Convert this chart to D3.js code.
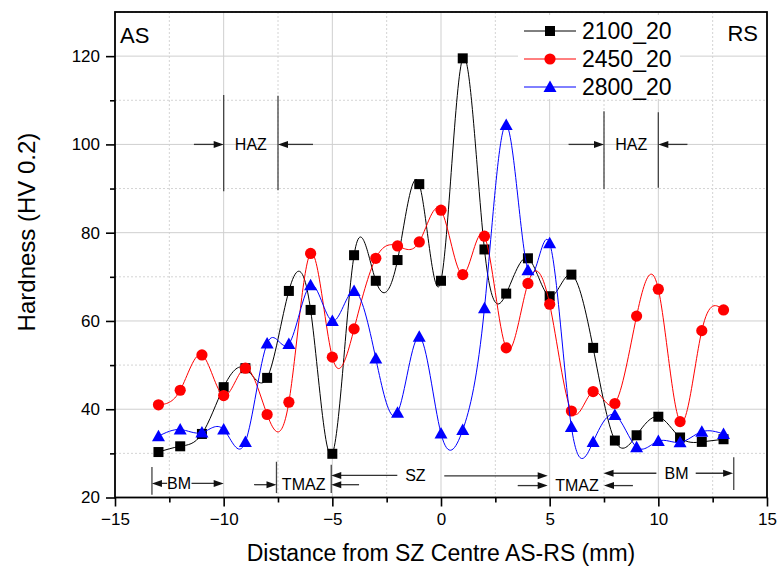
<!DOCTYPE html>
<html>
<head>
<meta charset="utf-8">
<script src="https://cdn.jsdelivr.net/npm/d3@7"></script>
<style>
  body { margin: 0; background: #fff; }
  svg { display: block; font-family: Arial, "Liberation Sans", sans-serif; }
</style>
</head>
<body>
<svg id="chart" width="778" height="570"></svg>
<script>
// distance from SZ centre, mm
var distance = [-13, -12, -11, -10, -9, -8, -7, -6, -5, -4, -3, -2, -1, 0, 1, 2, 3, 4, 5, 6, 7, 8, 9, 10, 11, 12, 13];

var hv2100 = [30.3, 31.6, 34.4, 45.0, 49.3, 47.1, 66.8, 62.5, 29.9, 74.9, 69.1, 73.8, 91.0, 69.1, 119.5, 76.2, 66.2, 74.2, 65.6, 70.5, 53.9, 32.9, 34.1, 38.3, 33.6, 32.6, 33.2];
var hv2450 = [41.0, 44.3, 52.3, 43.1, 49.3, 38.8, 41.6, 75.3, 51.8, 58.2, 74.2, 77.0, 77.9, 85.1, 70.5, 79.2, 53.9, 68.5, 63.8, 39.6, 44.0, 41.3, 61.1, 67.2, 37.2, 57.8, 62.5];
var hv2800 = [33.9, 35.4, 34.7, 35.4, 32.6, 54.9, 54.8, 68.1, 60.0, 66.8, 51.5, 39.2, 56.4, 34.5, 35.3, 62.9, 104.4, 71.5, 77.6, 36.0, 32.6, 38.7, 31.4, 32.8, 32.5, 34.9, 34.4];

var seriesNames = ['2100_20', '2450_20', '2800_20'];
var seriesColors = ['#000000', '#ff0000', '#0000ff'];
var seriesShapes = ['square', 'circle', 'triangle'];

var xTicks = [-15, -10, -5, 0, 5, 10, 15];
var yTicks = [20, 40, 60, 80, 100, 120];

// zone annotations, in data units
var zoneLines = [
  {x: -10, y1: 89.4, y2: 111.2}, {x: -7.5, y1: 89.6, y2: 111.0},
  {x: 7.5, y1: 89.9, y2: 107.5}, {x: 10, y1: 90.2, y2: 107.3},
  {x: -13.3, y1: 20.6, y2: 26.9}, {x: -7.57, y1: 21.0, y2: 28.1},
  {x: -5.05, y1: 21.0, y2: 27.4}, {x: 13.47, y1: 21.7, y2: 29.1}
];
var zoneArrows = [
  {from: -11.37, to: -10, y: 100}, {from: -5.89, to: -7.5, y: 100},
  {from: 5.87, to: 7.5, y: 100}, {from: 11.34, to: 10, y: 100},
  {from: -12.6, to: -13.3, y: 23.2}, {from: -11.48, to: -10, y: 23.2},
  {from: -8.6, to: -7.57, y: 22.9}, {from: -3.77, to: -5.05, y: 22.9},
  {from: -2.01, to: -5.05, y: 25.0}, {from: 0.15, to: 4.91, y: 24.9},
  {from: 3.53, to: 4.91, y: 22.7}, {from: 8.83, to: 7.5, y: 22.7},
  {from: 9.91, to: 7.48, y: 25.5}, {from: 11.72, to: 13.44, y: 25.5}
];
var zoneLabels = [
  {text: 'HAZ', x: -8.75, y: 100}, {text: 'HAZ', x: 8.75, y: 100},
  {text: 'BM', x: -12.05, y: 23.2}, {text: 'TMAZ', x: -6.32, y: 22.9},
  {text: 'SZ', x: -1.18, y: 25.0}, {text: 'TMAZ', x: 6.26, y: 22.7},
  {text: 'BM', x: 10.84, y: 25.5}
];

var margin = {top: 12, right: 11, bottom: 72.5, left: 115};
var width = 778 - margin.left - margin.right;
var height = 570 - margin.top - margin.bottom;

var svg = d3.select('#chart');
var g = svg.append('g')
    .attr('transform', 'translate(' + margin.left + ',' + margin.top + ')');

var x = d3.scaleLinear().domain([-15, 15]).range([0, width]);
var y = d3.scaleLinear().domain([20, 130]).range([height, 0]);

var xMinor = d3.range(-12.5, 15, 5);
var yMinor = d3.range(30, 131, 20);

// grid
g.append('g').selectAll('line').data(xMinor).enter().append('line')
  .attr('x1', x).attr('x2', x).attr('y1', 0).attr('y2', height)
  .style('stroke', '#d4d4d4').style('stroke-dasharray', '2,2');
g.append('g').selectAll('line').data(yMinor).enter().append('line')
  .attr('y1', y).attr('y2', y).attr('x1', 0).attr('x2', width)
  .style('stroke', '#d4d4d4').style('stroke-dasharray', '2,2');
g.append('g').selectAll('line').data(xTicks.slice(1, -1)).enter().append('line')
  .attr('x1', x).attr('x2', x).attr('y1', 0).attr('y2', height)
  .style('stroke', '#cfcfcf');
g.append('g').selectAll('line').data(yTicks.slice(1)).enter().append('line')
  .attr('y1', y).attr('y2', y).attr('x1', 0).attr('x2', width)
  .style('stroke', '#cfcfcf');

// axes
var xAxis = g.append('g')
  .attr('transform', 'translate(0,' + height + ')')
  .call(d3.axisBottom(x).tickValues(xTicks).tickSize(9).tickPadding(6).tickFormat(d3.format('d')));
var xAxisMinor = g.append('g')
  .attr('transform', 'translate(0,' + height + ')')
  .call(d3.axisBottom(x).tickValues(xMinor).tickSize(5).tickFormat(''));
var yAxis = g.append('g')
  .call(d3.axisLeft(y).tickValues(yTicks).tickSize(9).tickPadding(6));
var yAxisMinor = g.append('g')
  .call(d3.axisLeft(y).tickValues(yMinor.filter(function (v) { return v < 130; })).tickSize(5).tickFormat(''));

[xAxis, xAxisMinor, yAxis, yAxisMinor].forEach(function (a) {
  a.select('.domain').remove();
  a.selectAll('line').style('stroke', '#000').style('stroke-width', 1.6);
  a.selectAll('text').style('font-size', '17px').style('fill', '#000')
    .style('font-family', 'Arial, "Liberation Sans", sans-serif');
});

g.append('rect')
  .attr('width', width).attr('height', height)
  .style('fill', 'none').style('stroke', '#000').style('stroke-width', 1.8);

// zone annotations
var ann = g.append('g');
ann.selectAll('line.zone').data(zoneLines).enter().append('line')
  .attr('class', 'zone')
  .attr('x1', function (d) { return x(d.x); }).attr('x2', function (d) { return x(d.x); })
  .attr('y1', function (d) { return y(d.y1); }).attr('y2', function (d) { return y(d.y2); })
  .style('stroke', '#444').style('stroke-width', 1.3);

ann.selectAll('g.arrow').data(zoneArrows).enter().append('g')
  .attr('class', 'arrow')
  .each(function (d) {
    var el = d3.select(this);
    var x1 = x(d.from), x2 = x(d.to), yy = y(d.y);
    var dir = x2 > x1 ? 1 : -1;
    el.append('line')
      .attr('x1', x1).attr('x2', x2 - dir * 6).attr('y1', yy).attr('y2', yy)
      .style('stroke', '#333').style('stroke-width', 1.3);
    el.append('path')
      .attr('d', 'M' + x2 + ',' + yy + 'L' + (x2 - dir * 10) + ',' + (yy - 3.5) +
        'L' + (x2 - dir * 10) + ',' + (yy + 3.5) + 'Z')
      .style('fill', '#111');
  });

ann.selectAll('text').data(zoneLabels).enter().append('text')
  .attr('x', function (d) { return x(d.x); })
  .attr('y', function (d) { return y(d.y); })
  .attr('dy', '0.36em')
  .attr('text-anchor', 'middle')
  .style('font-size', '16px')
  .text(function (d) { return d.text; });

// series
var series = [hv2100, hv2450, hv2800];
var line = d3.line()
  .x(function (d, i) { return x(distance[i]); })
  .y(function (d) { return y(d); })
  .curve(d3.curveNatural);

function marker(sel, shape, color) {
  if (shape === 'square') {
    sel.append('rect').attr('x', -5).attr('y', -5).attr('width', 10).attr('height', 10).style('fill', color);
  } else if (shape === 'circle') {
    sel.append('circle').attr('r', 5.6).style('fill', color);
  } else {
    sel.append('path').attr('d', 'M0,-6.5L6.5,5L-6.5,5Z').style('fill', color);
  }
}

series.forEach(function (vals, k) {
  var sg = g.append('g');
  sg.append('path')
    .datum(vals)
    .attr('d', line)
    .style('fill', 'none')
    .style('stroke', seriesColors[k])
    .style('stroke-width', 1);
  sg.selectAll('g.pt').data(vals).enter().append('g')
    .attr('class', 'pt')
    .attr('transform', function (d, i) { return 'translate(' + x(distance[i]) + ',' + y(d) + ')'; })
    .each(function () { marker(d3.select(this), seriesShapes[k], seriesColors[k]); });
});

// legend
var legend = g.append('g').attr('transform', 'translate(' + (524 - margin.left) + ',' + (31 - margin.top) + ')');
legend.append('rect')
  .attr('x', -6).attr('y', -16).attr('width', 162).attr('height', 84)
  .style('fill', '#fff');
seriesNames.forEach(function (name, k) {
  var row = legend.append('g').attr('transform', 'translate(0,' + (k * 28) + ')');
  row.append('line').attr('x1', 0).attr('x2', 52).attr('y1', 0).attr('y2', 0)
    .style('stroke', seriesColors[k]).style('stroke-width', 1);
  marker(row.append('g').attr('transform', 'translate(26,0)'), seriesShapes[k], seriesColors[k]);
  row.append('text').attr('x', 58).attr('dy', '0.36em')
    .style('font-size', '23px').text(name);
});

// side labels
g.append('text').attr('x', 5).attr('y', 35 - margin.top).attr('dy', '0.36em')
  .style('font-size', '22px').text('AS');
g.append('text').attr('x', 758 - margin.left).attr('y', 33 - margin.top).attr('dy', '0.36em')
  .attr('text-anchor', 'end').style('font-size', '22px').text('RS');

// axis titles
svg.append('text')
  .attr('x', margin.left + width / 2).attr('y', 561)
  .attr('text-anchor', 'middle')
  .style('font-size', '23px')
  .text('Distance from SZ Centre AS-RS (mm)');
svg.append('text')
  .attr('transform', 'translate(35,' + 232 + ') rotate(-90)')
  .attr('text-anchor', 'middle')
  .style('font-size', '24px')
  .text('Hardness (HV 0.2)');
</script>
</body>
</html>
